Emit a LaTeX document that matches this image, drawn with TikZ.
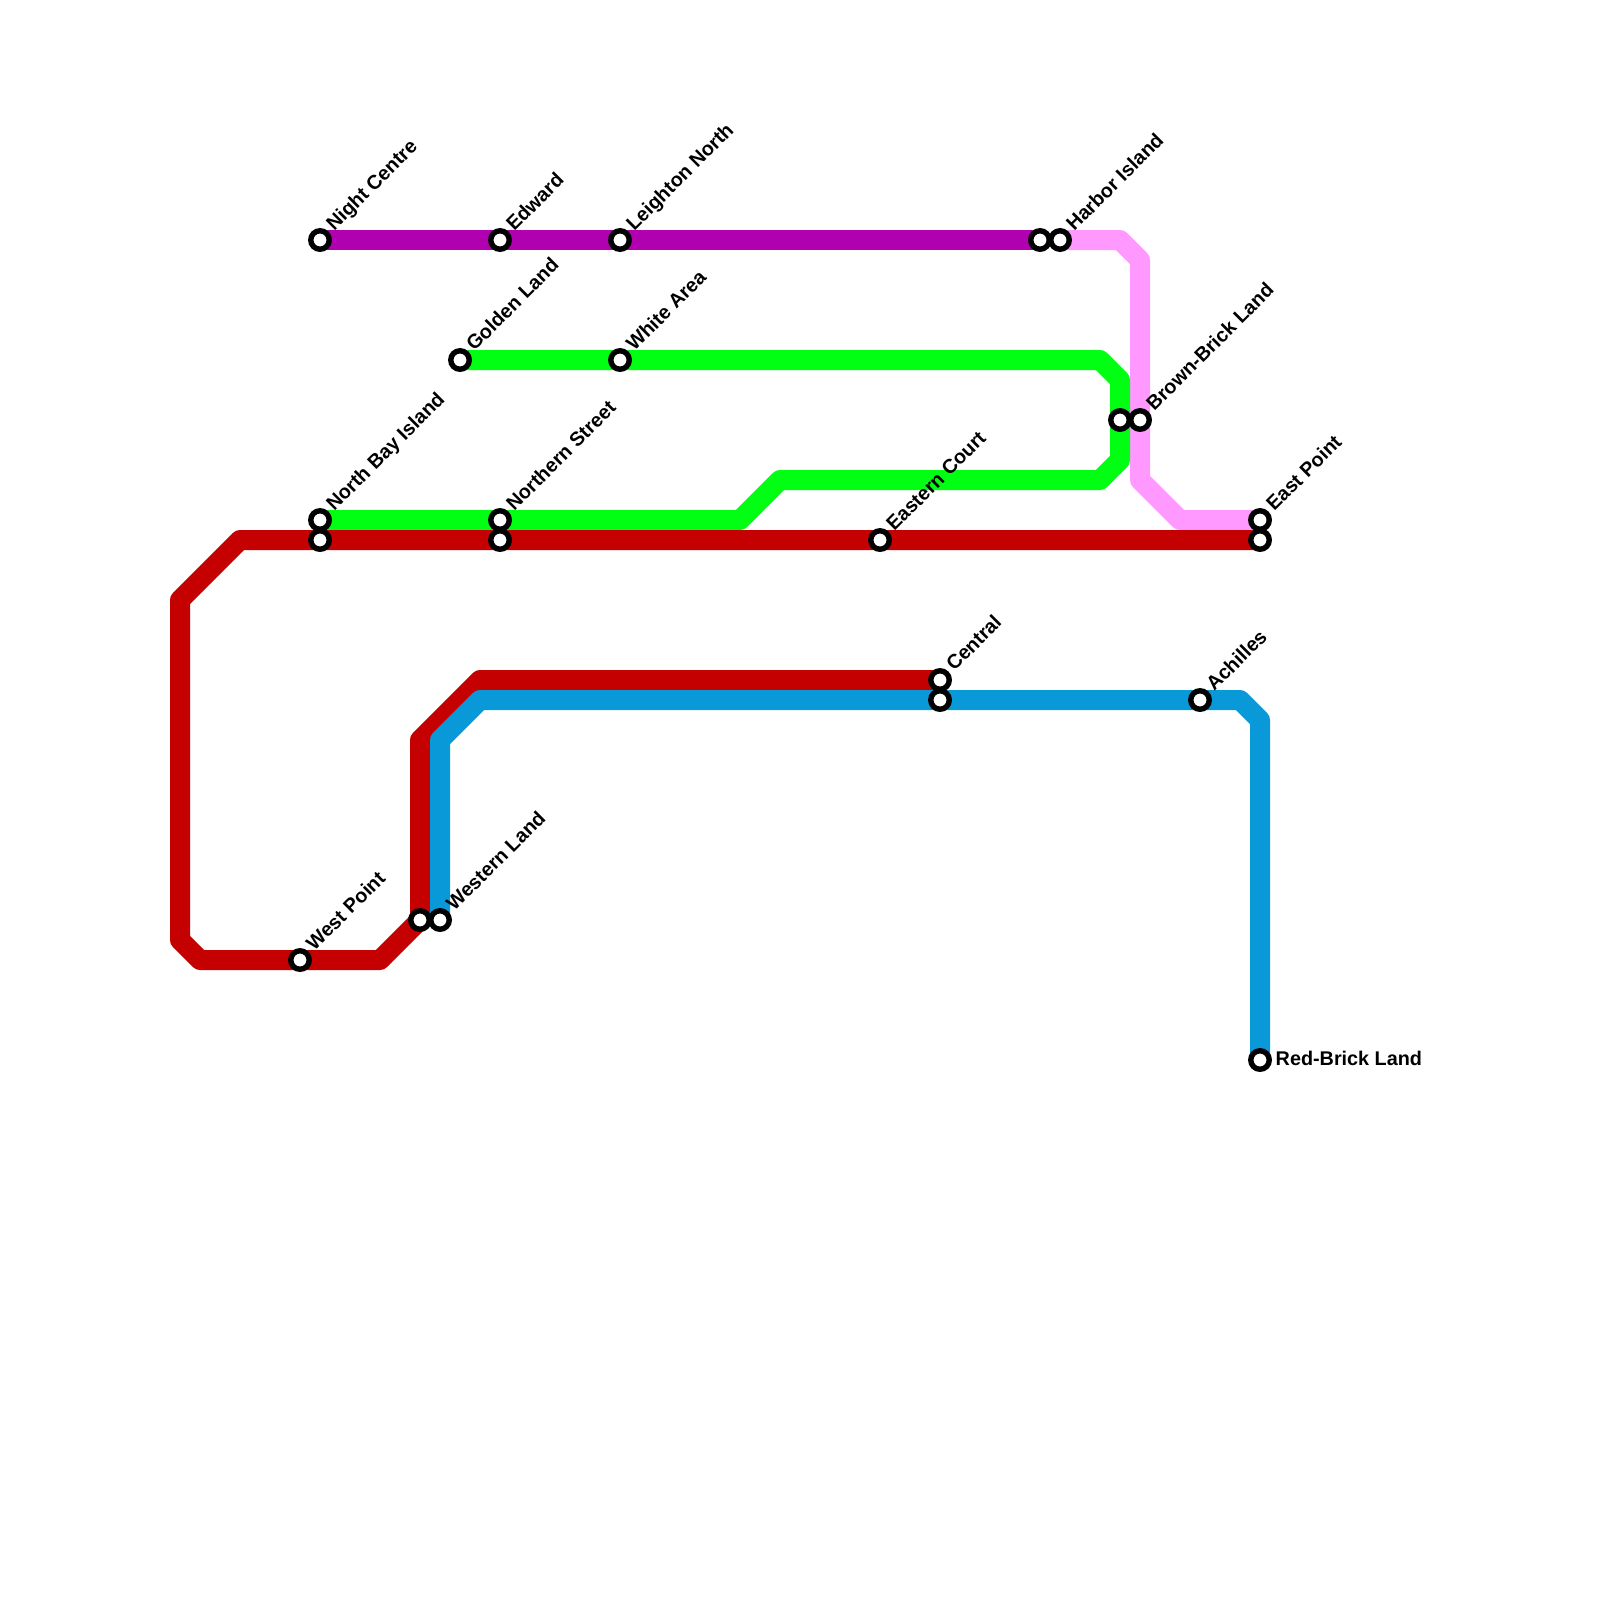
\documentclass[tikz,border=0pt]{standalone}
\usepackage{fontspec}
\setmainfont{Liberation Sans}
\usetikzlibrary{backgrounds}
\definecolor{redline}{HTML}{C40000}
\definecolor{blueline}{HTML}{0998D8}
\definecolor{greenline}{HTML}{00FF12}
\definecolor{purpleline}{HTML}{B000B0}
\definecolor{pinkline}{HTML}{FF99FF}

\begin{document}
\begin{tikzpicture}[
  x=1pt,
  y=-1pt,
  stn/.style={circle, draw=black, fill=white, line width=5.4pt, minimum size=18.5pt, inner sep=0pt, outer sep=0pt},
  lbl/.style={font=\fontsize{19.8}{22}\bfseries, text=black, inner sep=0pt, anchor=west, text height=14pt, text depth=0pt},
  diag/.style={lbl, rotate=45, xshift=-2pt, yshift=-1pt},
  metro/.style={line width=20pt, line join=round}
]
\useasboundingbox (0,0) rectangle (1600,1600);

% stations
\node[stn] (nightcentre) at (320,240) {};
\node[stn] (edward)      at (500,240) {};
\node[stn] (leighton)    at (620,240) {};
\node[stn] (harborw)     at (1040,240) {};
\node[stn] (harbor)      at (1060,240) {};
\node[stn] (golden)      at (460,360) {};
\node[stn] (whitearea)   at (620,360) {};
\node[stn] (brownw)      at (1120,420) {};
\node[stn] (brown)       at (1140,420) {};
\node[stn] (northbay)    at (320,520) {};
\node[stn] (northbayr)   at (320,540) {};
\node[stn] (northern)    at (500,520) {};
\node[stn] (northernr)   at (500,540) {};
\node[stn] (eastern)     at (880,540) {};
\node[stn] (east)        at (1260,520) {};
\node[stn] (eastr)       at (1260,540) {};
\node[stn] (central)     at (940,680) {};
\node[stn] (centralb)    at (940,700) {};
\node[stn] (achilles)    at (1200,700) {};
\node[stn] (redbrick)    at (1260,1060) {};
\node[stn] (westernr)    at (420,920) {};
\node[stn] (western)     at (440,920) {};
\node[stn] (westpoint)   at (300,960) {};

% labels
\node[diag] (nightcentrelbl) at (330,225) {Night Centre};
\node[diag] (edwardlbl)      at (510,225) {Edward};
\node[diag] (leightonlbl)    at (630,225) {Leighton North};
\node[diag] (harborlbl)      at (1070,225) {Harbor Island};
\node[diag] (goldenlbl)      at (470,345) {Golden Land};
\node[diag] (whitearealbl)   at (630,345) {White Area};
\node[diag] (brownlbl)       at (1150,405) {Brown-Brick Land};
\node[diag] (northbaylbl)    at (330,505) {North Bay Island};
\node[diag] (northernlbl)    at (510,505) {Northern Street};
\node[diag] (easternlbl)     at (890,525) {Eastern Court};
\node[diag] (eastlbl)        at (1270,505) {East Point};
\node[diag] (centrallbl)     at (950,665) {Central};
\node[diag] (achilleslbl)    at (1210,685) {Achilles};
\node[diag] (westernlbl)     at (450,905) {Western Land};
\node[diag] (westpointlbl)   at (310,945) {West Point};
\node[lbl]  (redbricklbl)    at (1275.5,1058) {Red-Brick Land};

% bends
\coordinate (pa) at (1120,240);
\coordinate (pb) at (1140,260);
\coordinate (pc) at (1140,480);
\coordinate (pd) at (1180,520);
\coordinate (ga) at (1100,360);
\coordinate (gb) at (1120,380);
\coordinate (gc) at (1120,460);
\coordinate (gd) at (1100,480);
\coordinate (ge) at (780,480);
\coordinate (gf) at (740,520);
\coordinate (ra) at (240,540);
\coordinate (rb) at (180,600);
\coordinate (rc) at (180,940);
\coordinate (rd) at (200,960);
\coordinate (re) at (380,960);
\coordinate (rf) at (420,740);
\coordinate (rg) at (480,680);
\coordinate (ba) at (440,740);
\coordinate (bb) at (480,700);
\coordinate (bc) at (1240,700);
\coordinate (bd) at (1260,720);

\begin{scope}[on background layer]
\fill[white] (0,0) rectangle (1600,1600);
\draw[metro, draw=purpleline] (nightcentre.center) -- (edward.center) -- (leighton.center) -- (harborw.center);
\draw[metro, draw=pinkline] (harbor.center) -- (pa) -- (pb) -- (brown.center) -- (pc) -- (pd) -- (east.center);
\draw[metro, draw=greenline] (golden.center) -- (whitearea.center) -- (ga) -- (gb) -- (brownw.center) -- (gc) -- (gd) -- (ge) -- (gf) -- (northern.center) -- (northbay.center);
\draw[metro, draw=redline] (eastr.center) -- (eastern.center) -- (northernr.center) -- (northbayr.center) -- (ra) -- (rb) -- (rc) -- (rd) -- (westpoint.center) -- (re) -- (westernr.center) -- (rf) -- (rg) -- (central.center);
\draw[metro, draw=blueline] (western.center) -- (ba) -- (bb) -- (centralb.center) -- (achilles.center) -- (bc) -- (bd) -- (redbrick.center);
\end{scope}
\end{tikzpicture}
\end{document}
